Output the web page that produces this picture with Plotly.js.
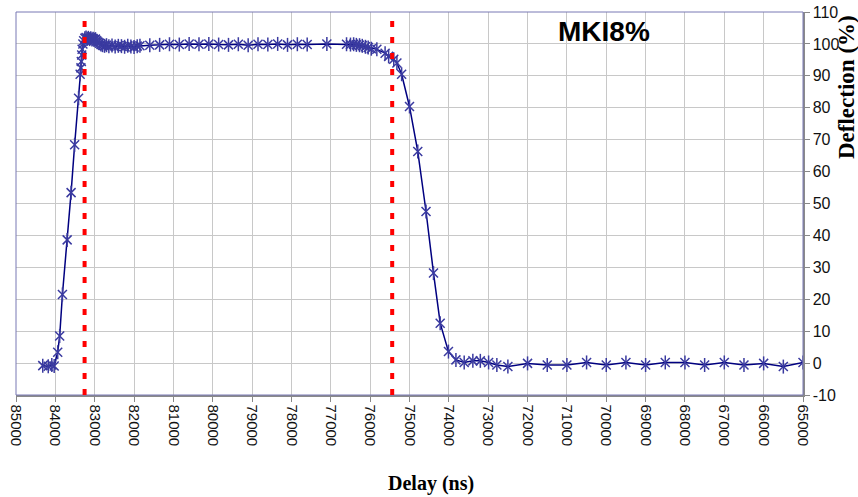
<!DOCTYPE html>
<html>
<head>
<meta charset="utf-8">
<script src="https://cdn.plot.ly/plotly-3.0.1.min.js"></script>
<style>html,body{margin:0;padding:0;background:#fff;}#chart{width:858px;height:497px;}</style>
</head>
<body>
<div id="chart"></div>
<script>
// Delay (ns)
const delayNs = [84320, 84180, 84090, 84030, 83940, 83890, 83820, 83700, 83600, 83510,
  83410, 83370, 83350, 83340, 83330, 83320, 83300, 83280, 83250, 83220,
  83190, 83160, 83130, 83100, 83070, 83040, 83010, 82980, 82950, 82920,
  82880, 82840, 82800, 82750, 82700, 82640, 82560, 82480, 82400, 82320,
  82240, 82160, 82080, 82000, 81920, 81850, 81600, 81350, 81100, 80850,
  80600, 80350, 80100, 79850, 79600, 79350, 79100, 78850, 78600, 78350,
  78100, 77850, 77600, 77100, 76600, 76500, 76420, 76350, 76270, 76200,
  76120, 76050, 75970, 75830, 75620, 75530, 75400, 75320, 75200, 75000,
  74790, 74580, 74390, 74220, 74010, 73820, 73610, 73390, 73200, 72990,
  72780, 72500, 72000, 71500, 71000, 70500, 70000, 69500, 69000, 68500,
  68000, 67500, 67000, 66500, 66000, 65500, 65000];
// Deflection (%)
const deflection = [-0.8, -1.0, -0.6, -0.9, 3.4, 8.5, 21.5, 38.6, 53.4, 68.4,
  83.0, 90.5, 92.5, 94.5, 96.5, 98.3, 100.0, 101.0, 101.8, 102.0,
  101.6, 101.9, 101.5, 101.8, 101.4, 101.6, 101.3, 101.5, 101.0, 100.6,
  100.2, 99.8, 99.6, 99.4, 99.6, 99.3, 99.5, 99.2, 99.4, 99.3,
  99.1, 99.4, 99.2, 99.0, 99.3, 99.4, 99.6, 99.7, 99.9, 99.8,
  100.0, 99.9, 100.0, 99.8, 99.7, 99.9, 99.6, 99.9, 99.8, 100.0,
  99.7, 99.9, 99.8, 100.0, 99.9, 99.8, 99.9, 99.7, 99.6, 99.4,
  99.1, 98.9, 98.5, 98.3, 97.1, 96.1, 95.2, 94.0, 90.5, 80.4,
  66.3, 47.5, 28.2, 12.5, 3.6, 1.0, 0.2, 0.7, 0.7, 0.2,
  -0.6, -1.1, -0.1, -0.6, -0.6, 0.2, -0.6, 0.2, -0.6, 0.2,
  0.2, -0.6, 0.2, -0.6, -0.1, -1.1, 0.2];
// Red dotted reference delays (ns)
const markerDelays = [83257, 75440];
const xTicks = [85000, 84000, 83000, 82000, 81000, 80000, 79000, 78000, 77000, 76000, 75000,
  74000, 73000, 72000, 71000, 70000, 69000, 68000, 67000, 66000, 65000];
const yTicks = [-10, 0, 10, 20, 30, 40, 50, 60, 70, 80, 90, 100, 110];
const chartTitle = 'MKI8%';
const xTitle = 'Delay (ns)';
const yTitle = 'Deflection (%)';

const markerColor = '#3a3aa0';
const traces = [
  {x: delayNs, y: deflection, type: 'scatter', mode: 'lines+markers',
   line: {color: '#000080', width: 1.5},
   marker: {symbol: 'x-thin-open', size: 9, line: {color: markerColor, width: 1.5}, color: markerColor},
   hoverinfo: 'x+y', showlegend: false},
  {x: delayNs, y: deflection, type: 'scatter', mode: 'markers',
   marker: {symbol: 'line-ns-open', size: 10, line: {color: markerColor, width: 1.5}, color: markerColor},
   hoverinfo: 'skip', showlegend: false}
];

const shapes = [
  {type: 'rect', xref: 'paper', yref: 'paper', x0: 0, x1: 1, y0: 0, y1: 1,
   line: {color: '#7878b4', width: 1}, layer: 'above'}
].concat(markerDelays.map(d => ({
  type: 'line', xref: 'x', yref: 'paper', x0: d, x1: d, y0: 0, y1: 0.985,
  line: {color: '#ff0000', width: 4, dash: '6px,10px'}, layer: 'above'
})));

const layout = {
  width: 858, height: 497,
  margin: {l: 16, r: 55, t: 12, b: 102},
  paper_bgcolor: '#ffffff', plot_bgcolor: '#ffffff',
  font: {family: 'Liberation Sans, Arial, sans-serif', size: 15, color: '#111'},
  xaxis: {
    range: [85000, 65000], tickvals: xTicks, ticktext: xTicks.map(String),
    tickangle: 90, ticks: 'outside', ticklen: 5, tickcolor: '#888',
    showgrid: true, gridcolor: '#c8c8c8', gridwidth: 1,
    showline: true, linecolor: '#8a8a8a', linewidth: 1.5,
    zeroline: false, tickfont: {size: 15, color: '#111'}
  },
  yaxis: {
    range: [-10, 110], tickvals: yTicks, ticktext: yTicks.map(String), side: 'right',
    ticks: 'outside', ticklen: 5, tickcolor: '#888',
    showgrid: true, gridcolor: '#c8c8c8', gridwidth: 1,
    showline: true, linecolor: '#8a8a8a', linewidth: 1.5,
    zeroline: false, tickfont: {size: 16, color: '#111'}
  },
  shapes: shapes,
  annotations: [
    {text: '<b>' + chartTitle + '</b>', xref: 'paper', yref: 'paper',
     x: (604 - 16) / 787, y: (395 - 31) / 383, xanchor: 'center', yanchor: 'middle',
     showarrow: false, font: {family: 'Liberation Sans, Arial, sans-serif', size: 28, color: '#000'}},
    {text: '<b>' + xTitle + '</b>', xref: 'paper', yref: 'paper',
     x: (431 - 16) / 787, y: -(483 - 395) / 383, xanchor: 'center', yanchor: 'middle',
     showarrow: false, font: {family: 'Liberation Serif, Times New Roman, serif', size: 20, color: '#000'}},
    {text: '<b>' + yTitle + '</b>', xref: 'paper', yref: 'paper', textangle: -90,
     x: (847 - 16) / 787, y: (395 - 87) / 383, xanchor: 'center', yanchor: 'middle',
     showarrow: false, font: {family: 'Liberation Serif, Times New Roman, serif', size: 23, color: '#000'}}
  ]
};

Plotly.newPlot('chart', traces, layout, {displayModeBar: false, staticPlot: true});
</script>
</body>
</html>
